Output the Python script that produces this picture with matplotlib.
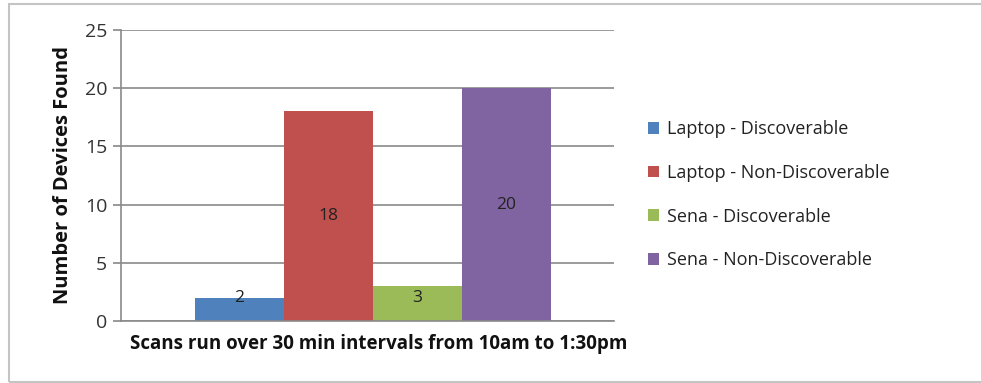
"""Grouped bar chart of devices found during Bluetooth scans."""

import matplotlib.pyplot as plt
from matplotlib.patches import Rectangle

series = [
    "Laptop - Discoverable",
    "Laptop - Non-Discoverable",
    "Sena - Discoverable",
    "Sena - Non-Discoverable",
]
counts = [2, 18, 3, 20]
colors = ["#4f81bd", "#c0504d", "#9bbb59", "#8064a2"]
y_ticks = [0, 5, 10, 15, 20, 25]

W, H = 981, 383
fig = plt.figure(figsize=(W / 100, H / 100), dpi=100)
plt.rcParams["font.family"] = ["Open Sans", "DejaVu Sans"]

# outer chart frame (right edge runs off the image)
fig.patches.append(Rectangle((9 / W, 1 / H), 980 / W, 378 / H, transform=fig.transFigure,
                             fill=False, edgecolor="#c4c4c4", linewidth=1.5))

ax = fig.add_axes([121 / W, 1 - 321 / H, (614 - 121) / W, (321 - 30) / H])

width = 0.922
x0 = 0.767
for i, (name, value, color) in enumerate(zip(series, counts, colors)):
    x = x0 + i * width
    ax.bar(x, value, width=width, color=color, label=name, zorder=2, align="edge")
    # short bars get their label pushed up near the top edge
    ax.text(x + width / 2, max(value / 2, 2.0), str(value),
            ha="center", va="center", fontsize=12.5, color="#222222", zorder=3)

ax.set_xlim(0, 5.11)
ax.set_ylim(0, 25)
ax.set_yticks(y_ticks)
ax.set_xticks([])
ax.tick_params(axis="y", length=6, width=1.2, color="#888888", labelsize=14,
               labelcolor="#333333", pad=4)
ax.yaxis.grid(True, color="#8a8a8a", linewidth=1.2, zorder=1)
for side in ["top", "right"]:
    ax.spines[side].set_visible(False)
for side in ["left", "bottom"]:
    ax.spines[side].set_color("#8a8a8a")
    ax.spines[side].set_linewidth(1.2)

ax.set_ylabel("Number of Devices Found", fontsize=14.5, fontweight="bold",
              color="#111111", labelpad=8)
ax.set_xlabel("Scans run over 30 min intervals from 10am to 1:30pm", fontsize=13.5,
              fontweight="bold", color="#111111", labelpad=9)
ax.xaxis.set_label_coords(0.523, -0.045, transform=ax.transAxes)
ax.xaxis.label.set_va("top")

fig.legend(loc="upper left", bbox_to_anchor=(632 / W, 1 - 104 / H), frameon=False,
           fontsize=13, handlelength=0.6, handleheight=0.6, handletextpad=0.45,
           labelspacing=1.42, labelcolor="#222222")

fig.savefig("out.png", dpi=100)
